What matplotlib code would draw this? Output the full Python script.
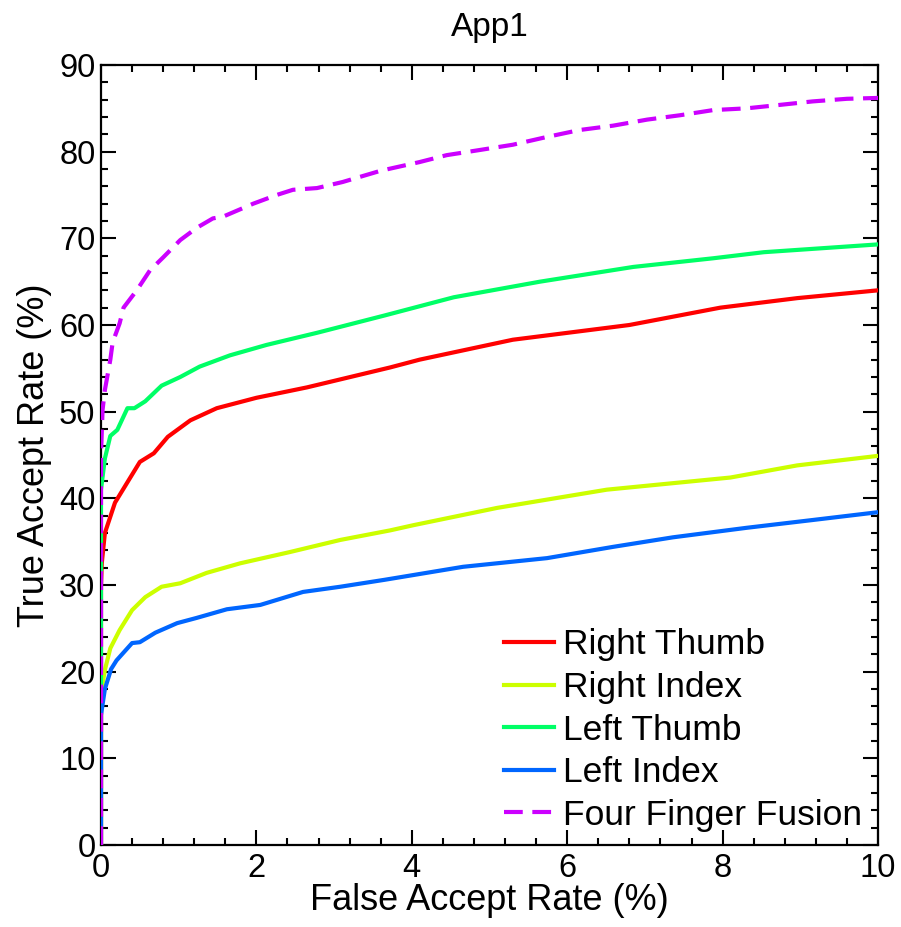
import matplotlib
matplotlib.use("Agg")
import matplotlib.pyplot as plt
from matplotlib.ticker import MultipleLocator

plt.rcParams['font.family'] = ['Liberation Sans', 'DejaVu Sans']

labels = ["Right Thumb", "Right Index", "Left Thumb", "Left Index", "Four Finger Fusion"]
colors = ["#FF0000", "#CCFF00", "#00FF66", "#0066FF", "#CC00FF"]

rt_x = [0, 0.0, 0.01, 0.05, 0.18, 0.35, 0.5, 0.68, 0.86, 1.15, 1.49, 2.0, 2.65, 3.72, 4.1, 5.3, 6.8, 7.97, 8.96, 10.0]
rt_y = [0, 29.8, 32.5, 36.0, 39.5, 42.0, 44.2, 45.2, 47.1, 49.0, 50.4, 51.6, 52.8, 55.1, 56.0, 58.3, 60.0, 62.0, 63.1, 64.0]

ri_x = [0, 0.0, 0.05, 0.12, 0.24, 0.4, 0.57, 0.78, 1.02, 1.36, 1.79, 2.43, 3.08, 3.72, 4.02, 5.1, 6.51, 8.1, 8.96, 10.0]
ri_y = [0, 17.5, 20.2, 22.7, 24.8, 27.1, 28.6, 29.8, 30.2, 31.4, 32.5, 33.8, 35.2, 36.3, 36.9, 38.9, 41.0, 42.4, 43.8, 44.9]

lt_x = [0, 0.0, 0.05, 0.12, 0.21, 0.34, 0.43, 0.57, 0.78, 1.02, 1.27, 1.66, 2.13, 2.78, 3.65, 4.54, 5.65, 6.85, 7.88, 8.53, 10.0]
lt_y = [0, 41.0, 44.6, 47.2, 47.9, 50.4, 50.4, 51.2, 53.0, 54.0, 55.2, 56.5, 57.7, 59.1, 61.1, 63.2, 65.0, 66.7, 67.7, 68.4, 69.3]

li_x = [0, 0.0, 0.05, 0.13, 0.2, 0.4, 0.5, 0.7, 0.98, 1.23, 1.62, 2.05, 2.6, 3.08, 3.65, 4.66, 5.74, 6.59, 7.36, 8.31, 9.16, 10.0]
li_y = [0, 15.0, 18.0, 20.3, 21.3, 23.3, 23.4, 24.5, 25.6, 26.2, 27.2, 27.7, 29.2, 29.8, 30.6, 32.1, 33.1, 34.4, 35.5, 36.6, 37.5, 38.4]

ff_x = [0, 0.0, 0.02, 0.05, 0.12, 0.15, 0.24, 0.29, 0.46, 0.63, 0.80, 1.02, 1.23, 1.44, 1.57, 1.96, 2.26, 2.47, 2.78, 3.11, 3.6,
        4.1, 4.45, 4.88, 5.3, 5.74, 6.16, 6.59, 7.03, 7.45, 7.88, 8.31, 8.74, 9.16, 9.6, 10.0]
ff_y = [0, 45.0, 50.2, 52.5, 56.0, 58.0, 60.2, 62.0, 64.0, 66.3, 67.8, 69.8, 71.2, 72.3, 72.5, 74.0, 75.0, 75.6, 75.8, 76.5, 77.8,
        78.8, 79.6, 80.2, 80.8, 81.7, 82.5, 83.0, 83.7, 84.2, 84.8, 85.0, 85.4, 85.8, 86.1, 86.2]

series_x = [rt_x, ri_x, lt_x, li_x, ff_x]
series_y = [rt_y, ri_y, lt_y, li_y, ff_y]

fig = plt.figure(figsize=(9.01, 9.27), dpi=100)
ax = fig.add_axes([101/901, 1-845/927, 777/901, 780/927])

for i, (xs, ys) in enumerate(zip(series_x, series_y)):
    if i == 4:
        ax.plot(xs, ys, color=colors[i], lw=3, ls=(0, (4.5, 2.3)), label=labels[i], zorder=3)
    else:
        ax.plot(xs, ys, color=colors[i], lw=3, label=labels[i], zorder=3)

ax.set_xlim(0, 10)
ax.set_ylim(0, 90)
ax.xaxis.set_major_locator(MultipleLocator(2))
ax.xaxis.set_minor_locator(MultipleLocator(0.4))
ax.yaxis.set_major_locator(MultipleLocator(10))
ax.yaxis.set_minor_locator(MultipleLocator(2))
ax.tick_params(which='both', direction='in', top=True, right=True, width=1.5, labelsize=23.5)
ax.tick_params(which='major', length=10.5)
ax.tick_params(which='minor', length=5)
ax.tick_params(axis='x', pad=6)
ax.tick_params(axis='y', pad=4)
for s in ax.spines.values():
    s.set_linewidth(1.6)

ax.set_xlabel("False Accept Rate (%)", fontsize=26, labelpad=-1)
ax.set_ylabel("True Accept Rate (%)", fontsize=26, labelpad=5)
ax.set_title("App1", fontsize=24, pad=21)

leg = ax.legend(loc='lower right', bbox_to_anchor=(0.98, 0.017), frameon=False, fontsize=25.5,
                handlelength=1.41, handletextpad=0.28, labelspacing=0.27, borderpad=0, borderaxespad=0)

fig.savefig("out.png", dpi=100)
